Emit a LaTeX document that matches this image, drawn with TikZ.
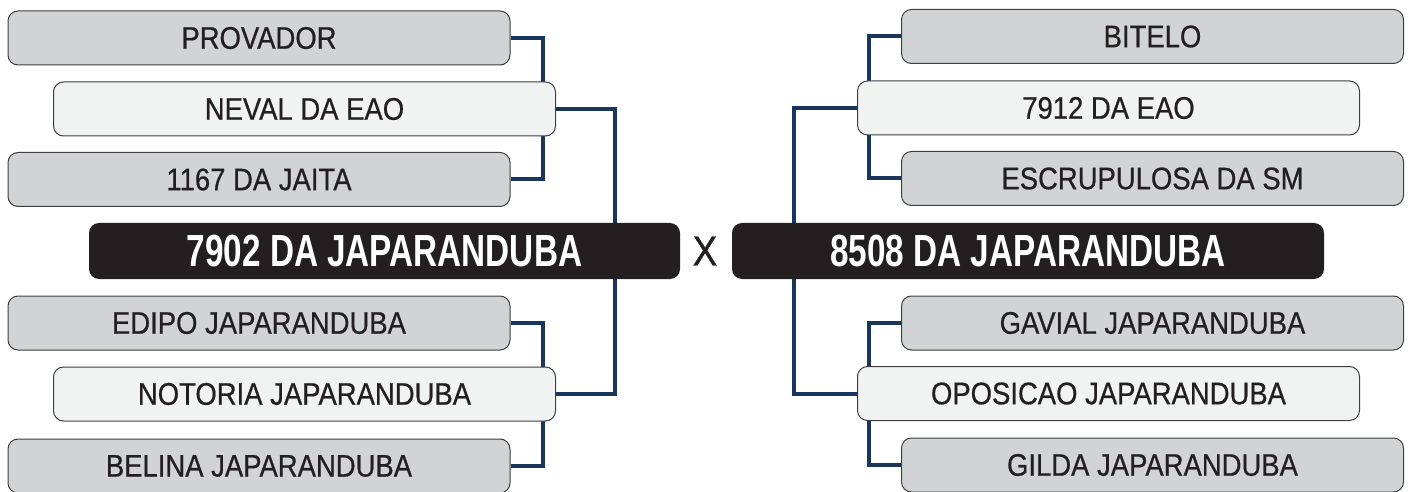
\documentclass[tikz,border=0pt]{standalone}
\usepackage{fontspec}
\usetikzlibrary{backgrounds}

\newfontfamily\namefont[FakeStretch=0.88, FakeBold=0.6]{Liberation Sans}
\newfontfamily\champfont[FakeStretch=0.74]{Liberation Sans}

\definecolor{boxgray}{HTML}{D1D3D4}
\definecolor{boxlight}{HTML}{F1F2F2}
\definecolor{boxedge}{HTML}{3F3F41}
\definecolor{champblack}{HTML}{231F20}
\definecolor{bracketblue}{HTML}{1B365D}

\tikzset{
	entry/.style={draw=boxedge, line width=0.5pt, rounded corners=5pt,
		minimum width=251pt, minimum height=27pt, inner sep=0pt,
		text=champblack, font=\namefont\fontsize{15.6}{18}\selectfont},
	seed/.style={entry, fill=boxgray},
	pick/.style={entry, fill=boxlight},
	champ/.style={fill=champblack, rounded corners=5pt, minimum height=28pt,
		inner sep=0pt, text=white, font=\champfont\bfseries\fontsize{22.5}{26}\selectfont},
	bracket/.style={draw=bracketblue, line width=2pt},
}

\begin{document}
\begin{tikzpicture}[x=0.5pt, y=-0.5pt]
	\useasboundingbox (0, 0) rectangle (1410, 492);

	%% left bracket
	\node[seed] (prov)  at (259, 38)    {PROVADOR};
	\node[pick] (neval) at (304.5, 109) {NEVAL DA EAO};
	\node[seed] (jaita) at (259, 179.5) {1167 DA JAITA};

	\node[champ, minimum width=295.5pt] (champl) at (384.5, 251) {7902 DA JAPARANDUBA};

	\node[seed] (edipo)   at (259, 323)   {EDIPO JAPARANDUBA};
	\node[pick] (notoria) at (304.5, 394) {NOTORIA JAPARANDUBA};
	\node[seed] (belina)  at (259, 466)   {BELINA JAPARANDUBA};

	%% versus
	\node[text=champblack, font=\namefont\fontsize{21}{24}\selectfont] (vs) at (705, 251) {X};

	%% right bracket
	\node[seed] (bitelo) at (1152.5, 36.5) {BITELO};
	\node[pick] (eao)    at (1108.5, 108)  {7912 DA EAO};
	\node[seed] (escr)   at (1152.5, 178.5) {ESCRUPULOSA DA SM};

	\node[champ, minimum width=296pt] (champr) at (1028, 251) {8508 DA JAPARANDUBA};

	\node[seed] (gavial) at (1152.5, 323)   {GAVIAL JAPARANDUBA};
	\node[pick] (opos)   at (1108.5, 393.5) {OPOSICAO JAPARANDUBA};
	\node[seed] (gilda)  at (1152.5, 465)   {GILDA JAPARANDUBA};

	%% connectors
	\begin{scope}[on background layer]
		\draw[bracket] (prov.east) -- ++(32, 0) |- (jaita.east);
		\draw[bracket] (edipo.east) -- ++(32, 0) |- (belina.east);
		\draw[bracket] (neval.east) -- ++(59, 0) |- (notoria.east);

		\draw[bracket] (bitelo.west) -- ++(-32, 0) |- (escr.west);
		\draw[bracket] (gavial.west) -- ++(-32, 0) |- (gilda.west);
		\draw[bracket] (eao.west) -- ++(-63, 0) |- (opos.west);
	\end{scope}
\end{tikzpicture}
\end{document}
